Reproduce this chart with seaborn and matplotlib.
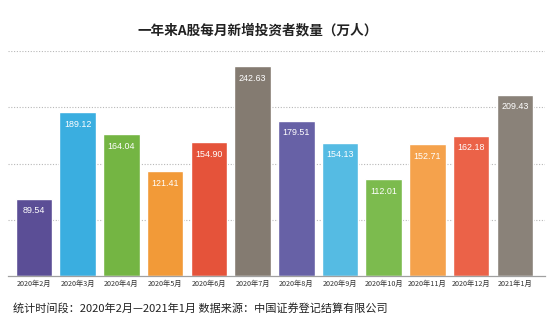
import matplotlib
matplotlib.use("Agg")
import matplotlib.pyplot as plt
import seaborn as sns
import pandas as pd

months = ["2020年2月", "2020年3月", "2020年4月", "2020年5月", "2020年6月", "2020年7月",
          "2020年8月", "2020年9月", "2020年10月", "2020年11月", "2020年12月", "2021年1月"]
values = [89.54, 189.12, 164.04, 121.41, 154.90, 242.63,
          179.51, 154.13, 112.01, 152.71, 162.18, 209.43]
colors = ["#5B4E96", "#3AAEE0", "#74B543", "#F29A38", "#E5533A", "#847B71",
          "#6761A6", "#55BBE3", "#7CBB4E", "#F5A24C", "#EB6248", "#8A8279"]
title = "一年来A股每月新增投资者数量（万人）"
footer = "统计时间段：2020年2月—2021年1月 数据来源：中国证券登记结算有限公司"

sns.set_theme(style="white")
plt.rcParams['font.family'] = ['Noto Sans CJK SC', 'DejaVu Sans']

df = pd.DataFrame({"month": months, "value": values})

fig = plt.figure(figsize=(5.5, 3.28), dpi=100)
ax = fig.add_axes([0.0145, 0.1585, 0.976, 0.686])
sns.barplot(data=df, x="month", y="value", hue="month", palette=colors,
            legend=False, width=0.835, ax=ax, saturation=1)

for c in ax.containers:
    labels = ax.bar_label(c, fmt="%.2f", padding=-12, color="white", fontsize=6.4)
    for t in labels:
        t.set_fontfamily(["Liberation Sans", "DejaVu Sans"])

ax.set_ylim(0, 260)
ax.set_xlim(-0.595, 11.685)
ax.set_yticks([65, 130, 195, 260])
ax.set_yticklabels([])
ax.yaxis.grid(True, linestyle=(0, (1, 1.5)), color="#B8B8B8", linewidth=0.8)
ax.set_axisbelow(True)
for s in ["top", "left", "right"]:
    ax.spines[s].set_visible(False)
ax.spines["bottom"].set_color("#A0A0A0")
ax.spines["bottom"].set_linewidth(0.9)
ax.tick_params(axis="x", length=0, pad=3, labelsize=5.2, labelcolor="#333333")
ax.tick_params(axis="y", length=0)
ax.set_xlabel("")
ax.set_ylabel("")

fig.text(0.468, 0.908, title, ha="center", va="center", fontsize=9.8,
         color="#222222", fontweight="bold")
fig.text(0.024, 0.061, footer, ha="left", va="center", fontsize=8,
         color="#222222")

fig.savefig("out.png", dpi=100, facecolor="white")
